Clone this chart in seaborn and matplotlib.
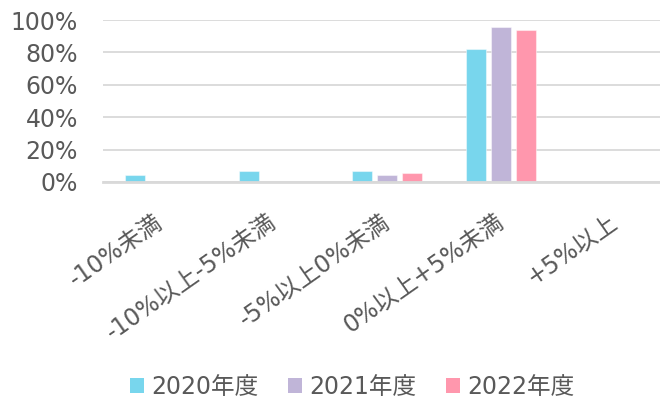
import matplotlib
matplotlib.use("Agg")
import matplotlib.pyplot as plt
from matplotlib.patches import Patch
import pandas as pd
import seaborn as sns

categories = ["-10%未満", "-10%以上-5%未満", "-5%以上0%未満", "0%以上+5%未満", "+5%以上"]
years = ["2020年度", "2021年度", "2022年度"]
values_2020 = [4.3, 6.5, 6.5, 81.9, 0.0]
values_2021 = [0.0, 0.0, 4.1, 95.5, 0.0]
values_2022 = [0.0, 0.0, 5.5, 93.8, 0.0]
colors = ["#78d6ed", "#c0b5d8", "#ff97ad"]
y_ticks = [0, 20, 40, 60, 80, 100]

sns.set_theme(style="white")
plt.rcParams["font.family"] = ["DejaVu Sans", "Noto Sans CJK JP"]
text_color = "#595959"
grid_color = "#d9d9d9"
font_size = 17

df = pd.DataFrame({
    "区分": categories * 3,
    "年度": [years[0]] * 5 + [years[1]] * 5 + [years[2]] * 5,
    "割合": values_2020 + values_2021 + values_2022,
})

fig = plt.figure(figsize=(6.6, 4.04), dpi=100)
ax = fig.add_axes([103 / 660, 1 - 182 / 404, (671.7 - 103) / 660, (182 - 20) / 404])

sns.barplot(data=df, x="区分", y="割合", hue="年度",
            order=categories, hue_order=years, palette=colors,
            width=0.66, gap=0.2, saturation=1, linewidth=0.8,
            edgecolor=(1, 1, 1, 0.45), legend=False, ax=ax)

ax.set_ylim(0, 100)
ax.set_xlim(-0.5, len(categories) - 0.5)
ax.set_yticks(y_ticks)
ax.set_yticklabels([f"{t}%" for t in y_ticks])
ax.yaxis.grid(True, color=grid_color, linewidth=1.3)
ax.set_axisbelow(True)
for side in ["top", "right", "left"]:
    ax.spines[side].set_visible(False)
ax.spines["bottom"].set_color(grid_color)
ax.spines["bottom"].set_linewidth(2)
ax.tick_params(axis="y", length=0, pad=18, labelsize=font_size, labelcolor=text_color)
ax.tick_params(axis="x", length=0, pad=27, labelsize=font_size, labelcolor=text_color)
ax.set_xlabel("")
ax.set_ylabel("")
for lab in ax.get_xticklabels():
    lab.set_rotation(35)
    lab.set_ha("right")
    lab.set_va("center")
    lab.set_rotation_mode("anchor")

handles = [Patch(facecolor=c, edgecolor="none") for c in colors]
fig.legend(handles, years, loc="center", bbox_to_anchor=(352 / 660, 1 - 387 / 404),
           ncol=3, frameon=False, fontsize=font_size, labelcolor=text_color,
           handlelength=0.6, handleheight=0.6, handletextpad=0.3,
           columnspacing=1.25)

fig.savefig("out.png", dpi=100)
